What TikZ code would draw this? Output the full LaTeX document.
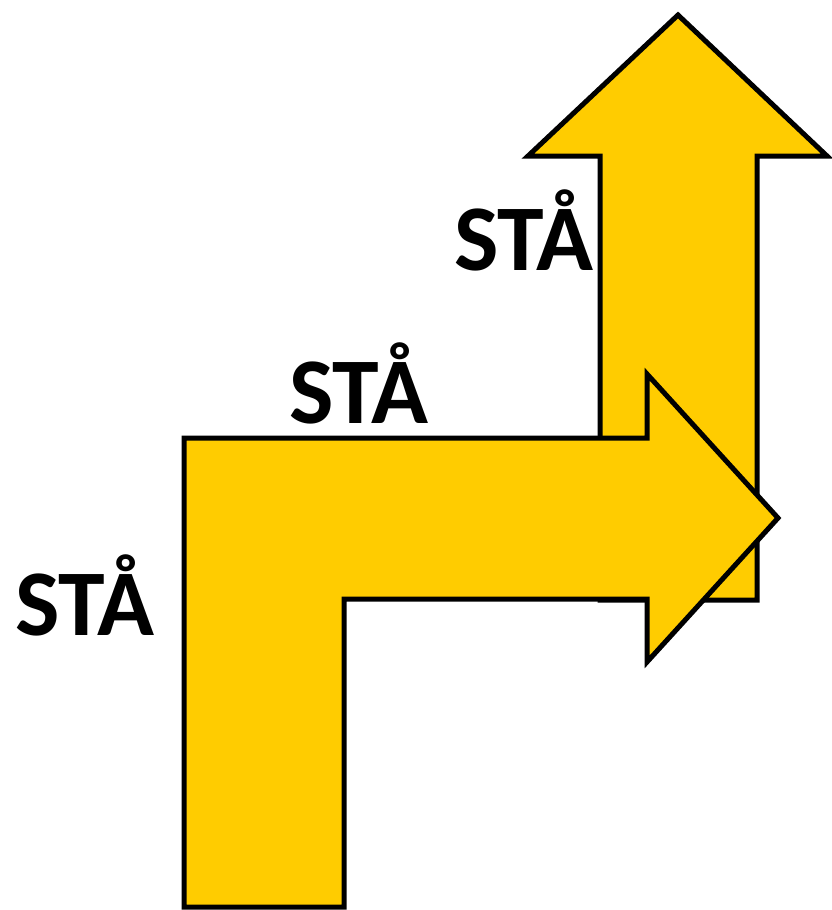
\documentclass[tikz,border=0pt]{standalone}
\usepackage{fontspec}
\setmainfont{Carlito}
\definecolor{arrowyellow}{HTML}{FFCC00}
\tikzset{
  arrowshape/.style={fill=arrowyellow, draw=black, line width=5pt, line join=miter, miter limit=10},
  label/.style={font=\fontsize{94}{94}\selectfont\bfseries, inner sep=0pt, anchor=base}
}
\begin{document}
\begin{tikzpicture}[x=1pt, y=-1pt]
\useasboundingbox (0,0) rectangle (831,910);
% up arrow
\draw[arrowshape] (600,600) -- (600,156) -- (528,156) -- (678,15) -- (827,156) -- (757,156) -- (757,600) -- cycle;
% L-shaped arrow
\draw[arrowshape] (184,907) -- (184,438) -- (647,438) -- (647,374) -- (778,518) -- (647,662) -- (647,599) -- (344,599) -- (344,907) -- cycle;
% labels
\node[label] (t1) at (85,635) {STÅ};
\node[label] (t2) at (359,423) {STÅ};
\node[label] (t3) at (524,270) {STÅ};
\end{tikzpicture}
\end{document}
